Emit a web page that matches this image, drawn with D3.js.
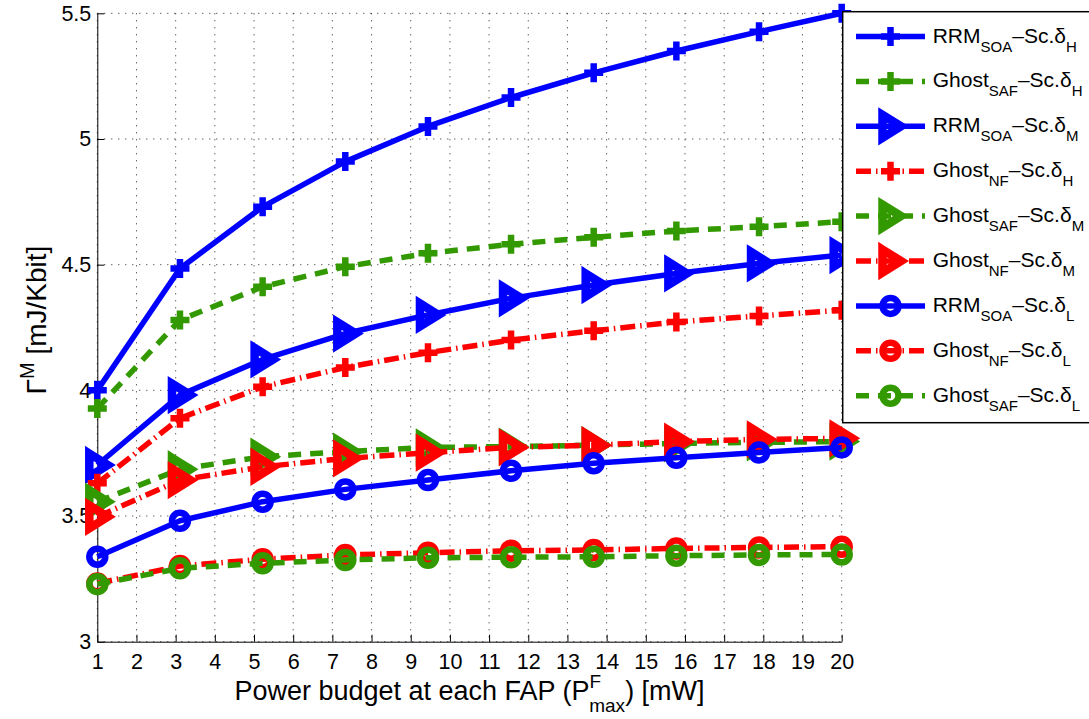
<!DOCTYPE html>
<html>
<head>
<meta charset="utf-8">
<script src="https://cdn.jsdelivr.net/npm/d3@7"></script>
<style>
  body { margin: 0; background: #fff; }
  svg text { font-family: "Liberation Sans", Arial, Helvetica, sans-serif; fill: #000; }
</style>
</head>
<body>
<div id="chart"></div>
<script>
// power budget per FAP [mW] (x positions of the markers)
const powerBudget = [1, 3.11, 5.22, 7.33, 9.44, 11.56, 13.67, 15.78, 17.89, 20];

// Gamma^M [mJ/Kbit]
const rrmSoaHigh   = [4.000, 4.485, 4.730, 4.910, 5.050, 5.165, 5.263, 5.350, 5.427, 5.500];
const ghostSafHigh = [3.928, 4.280, 4.412, 4.492, 4.545, 4.581, 4.609, 4.634, 4.651, 4.671];
const rrmSoaMed    = [3.703, 3.981, 4.123, 4.226, 4.300, 4.366, 4.419, 4.465, 4.505, 4.538];
const ghostNfHigh  = [3.630, 3.889, 4.014, 4.091, 4.150, 4.200, 4.237, 4.272, 4.296, 4.319];
const ghostSafMed  = [3.557, 3.686, 3.736, 3.756, 3.773, 3.776, 3.782, 3.789, 3.793, 3.796];
const ghostNfMed   = [3.497, 3.643, 3.696, 3.729, 3.752, 3.773, 3.782, 3.796, 3.805, 3.809];
const rrmSoaLow    = [3.338, 3.481, 3.557, 3.606, 3.643, 3.680, 3.710, 3.732, 3.753, 3.773];
const ghostNfLow   = [3.232, 3.301, 3.328, 3.345, 3.354, 3.362, 3.365, 3.371, 3.375, 3.378];
const ghostSafLow  = [3.229, 3.292, 3.312, 3.325, 3.334, 3.336, 3.338, 3.342, 3.345, 3.347];

const xTicks = d3.range(1, 21);
const yTicks = [3, 3.5, 4, 4.5, 5, 5.5];

// legend names: [scheme, subscript, scenario subscript]
const seriesNames = [
    ["RRM", "SOA", "H"],
    ["Ghost", "SAF", "H"],
    ["RRM", "SOA", "M"],
    ["Ghost", "NF", "H"],
    ["Ghost", "SAF", "M"],
    ["Ghost", "NF", "M"],
    ["RRM", "SOA", "L"],
    ["Ghost", "NF", "L"],
    ["Ghost", "SAF", "L"]
];
const seriesValues = [rrmSoaHigh, ghostSafHigh, rrmSoaMed, ghostNfHigh, ghostSafMed,
                      ghostNfMed, rrmSoaLow, ghostNfLow, ghostSafLow];

const BLUE = "#0000ff", GREEN = "#339900", RED = "#ff0000";
const styles = {
    RRM:   { color: BLUE,  dash: null },
    SAF:   { color: GREEN, dash: "13,9" },
    NF:    { color: RED,   dash: "15,5,1.5,5" }
};
const markerByScenario = { H: "plus", M: "triangle", L: "circle" };

class EnergyChart {
    constructor(id) {
        this.id = id;
        this.width = 1089;
        this.height = 719;
        this.left = 97.3;
        this.right = 841.7;
        this.top = 13.3;
        this.bottom = 641.7;
    }

    draw() {
        this.svg = d3.select(this.id).append("svg")
            .attr("width", this.width)
            .attr("height", this.height);

        this.x = d3.scaleLinear().domain([1, 20]).range([this.left, this.right]);
        this.y = d3.scaleLinear().domain([3, 5.5]).range([this.bottom, this.top]);

        this.drawGrid();
        this.drawAxes();
        this.drawSeries();
        this.drawLegend();
        this.drawLabels();
    }

    drawGrid() {
        const grid = this.svg.append("g").attr("class", "grid")
            .attr("stroke", "#222")
            .attr("stroke-width", 1)
            .attr("stroke-dasharray", "1,6");
        grid.selectAll(".vgrid").data(xTicks).enter().append("line")
            .attr("x1", d => this.x(d)).attr("x2", d => this.x(d))
            .attr("y1", this.top).attr("y2", this.bottom);
        grid.selectAll(".hgrid").data(yTicks).enter().append("line")
            .attr("x1", this.left).attr("x2", this.right)
            .attr("y1", d => this.y(d)).attr("y2", d => this.y(d));
    }

    drawAxes() {
        const xAxis = d3.axisBottom(this.x).tickValues(xTicks)
            .tickSizeInner(-7).tickSizeOuter(0).tickPadding(12)
            .tickFormat(d3.format("d"));
        const yAxis = d3.axisLeft(this.y).tickValues(yTicks)
            .tickSizeInner(-7).tickSizeOuter(0).tickPadding(6)
            .tickFormat(d => d);

        const gx = this.svg.append("g")
            .attr("transform", `translate(0,${this.bottom})`)
            .call(xAxis);
        const gy = this.svg.append("g")
            .attr("transform", `translate(${this.left},0)`)
            .call(yAxis);
        [gx, gy].forEach(g => {
            g.selectAll("text")
                .style("font-family", '"Liberation Sans", Arial, sans-serif')
                .style("font-size", "21.5px")
                .attr("fill", "#000");
            g.selectAll("line").attr("stroke", "#000");
            g.select(".domain").attr("stroke", "#000").attr("stroke-width", 1);
        });
    }

    drawMarker(g, type, color, cx, cy) {
        if (type === "circle") {
            g.append("circle")
                .attr("cx", cx).attr("cy", cy).attr("r", 8)
                .attr("fill", "none").attr("stroke", color).attr("stroke-width", 6.5);
        } else if (type === "plus") {
            g.append("path")
                .attr("d", "M-9.5,0H9.5M0,-9.5V9.5")
                .attr("transform", `translate(${cx},${cy})`)
                .attr("fill", "none")
                .attr("stroke", color)
                .attr("stroke-width", 6.5);
        } else {
            g.append("path")
                .attr("d", "M-8,-11.5L10.5,0L-8,11.5Z")
                .attr("transform", `translate(${cx},${cy})`)
                .attr("fill", "none")
                .attr("stroke", color)
                .attr("stroke-width", 8.5)
                .attr("stroke-linejoin", "miter");
        }
    }

    drawSeries() {
        const line = d3.line()
            .x(d => this.x(d[0]))
            .y(d => this.y(d[1]));

        seriesNames.forEach((name, i) => {
            const style = name[0] === "RRM" ? styles.RRM : styles[name[1]];
            const marker = markerByScenario[name[2]];
            const pts = powerBudget.map((p, j) => [p, seriesValues[i][j]]);
            const g = this.svg.append("g").attr("class", "series");

            g.append("path")
                .datum(pts)
                .attr("d", line)
                .attr("fill", "none")
                .attr("stroke", style.color)
                .attr("stroke-width", 5.5)
                .attr("stroke-dasharray", style.dash)
                .attr("stroke-linejoin", "round");

            pts.forEach(p => this.drawMarker(g, marker, style.color, this.x(p[0]), this.y(p[1])));
        });
    }

    drawLegend() {
        const lg = this.svg.append("g").attr("class", "legend");
        lg.append("rect")
            .attr("x", 842.7).attr("y", 11.7)
            .attr("width", 270).attr("height", 411)
            .attr("fill", "#fff")
            .attr("stroke", "#000")
            .attr("stroke-width", 1.5);

        seriesNames.forEach((name, i) => {
            const style = name[0] === "RRM" ? styles.RRM : styles[name[1]];
            const marker = markerByScenario[name[2]];
            const ry = 36.5 + i * 44.9;

            lg.append("line")
                .attr("x1", 856).attr("x2", 925)
                .attr("y1", ry).attr("y2", ry)
                .attr("stroke", style.color)
                .attr("stroke-width", 5.5)
                .attr("stroke-dasharray", style.dash);
            this.drawMarker(lg, marker, style.color, 890.5, ry);

            const t = lg.append("text")
                .attr("x", 932.7).attr("y", ry + 6)
                .style("font-size", "21px");
            t.append("tspan").text(name[0]);
            t.append("tspan").attr("dy", 9).style("font-size", "15px").text(name[1]);
            t.append("tspan").attr("dy", -9).text("\u2013Sc.\u03b4");
            t.append("tspan").attr("dy", 9).style("font-size", "15px").text(name[2]);
        });
    }

    drawLabels() {
        // x label with stacked super/subscript on P
        const xl = this.svg.append("text")
            .attr("x", (this.left + this.right) / 2)
            .attr("y", 700)
            .attr("text-anchor", "middle")
            .style("font-size", "27px");
        xl.append("tspan").text("Power budget at each FAP (P");
        xl.append("tspan").attr("dy", -12).style("font-size", "19px").text("F");
        xl.append("tspan").attr("dx", -12).attr("dy", 24).style("font-size", "19px").text("max");
        xl.append("tspan").attr("dy", -12).text(") [mW]");

        // y label, rotated
        const yl = this.svg.append("text")
            .attr("transform", `translate(46,320) rotate(-90)`)
            .attr("text-anchor", "middle")
            .style("font-size", "28px");
        yl.append("tspan").text("\u0393");
        yl.append("tspan").attr("dy", -12).style("font-size", "20px").text("M");
        yl.append("tspan").attr("dy", 12).text(" [mJ/Kbit]");
    }
}

const chart = new EnergyChart("#chart");
chart.draw();
</script>
</body>
</html>
